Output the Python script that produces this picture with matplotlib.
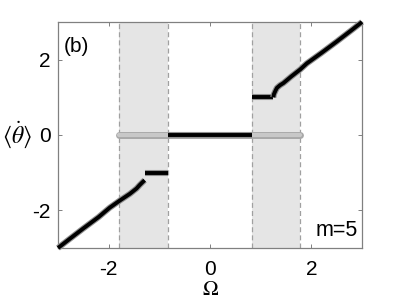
import matplotlib
matplotlib.use('Agg')
import matplotlib.pyplot as plt
import matplotlib.patheffects as pe

plt.rcParams['font.family'] = ['Liberation Sans', 'DejaVu Sans']
plt.rcParams['mathtext.fontset'] = 'stix'
plt.rcParams['axes.unicode_minus'] = False

# shaded bands (Omega ranges)
bands = [(-1.80, -0.83), (0.83, 1.77)]

# gray (unstable) branch at zero
gray_x = [-1.80, 1.77]
gray_y = [0.0, 0.0]

# black (stable) branches
mid_x = [-0.83, 0.83]
mid_y = [0.0, 0.0]

right_flat_x = [0.83, 1.25]
right_flat_y = [1.0, 1.0]
right_x = [1.25, 1.26, 1.29, 1.32, 1.38, 1.45, 1.60, 1.78, 1.91, 2.2, 2.5, 2.8, 3.0]
right_y = [1.00, 1.08, 1.17, 1.25, 1.32, 1.38, 1.55, 1.74, 1.90, 2.18, 2.48, 2.79, 3.0]

left_flat_x = [-1.29, -0.83]
left_flat_y = [-1.0, -1.0]
left_x = [-3.0, -2.8, -2.5, -2.2, -1.98, -1.78, -1.58, -1.45, -1.39, -1.33, -1.29]
left_y = [-3.0, -2.79, -2.48, -2.18, -1.93, -1.74, -1.56, -1.42, -1.33, -1.25, -1.20]

fig = plt.figure(figsize=(3.99, 2.99), dpi=100)
ax = fig.add_axes([0.1454, 0.1706, 0.7619, 0.7558])

for a, b in bands:
    ax.axvspan(a, b, color='#e5e5e5', zorder=0, lw=0)
    ax.axvline(a, color='#a0a0a0', ls='--', lw=0.9, dashes=(4, 2.5), zorder=1)
    ax.axvline(b, color='#a0a0a0', ls='--', lw=0.9, dashes=(4, 2.5), zorder=1)

ax.plot(gray_x, gray_y, color='#c8c8c8', lw=3, solid_capstyle='round', zorder=2,
        path_effects=[pe.Stroke(linewidth=5, foreground='#a8a8a8'), pe.Normal()])

black_fx = [pe.Stroke(linewidth=4.4, foreground='#909090'), pe.Normal()]
for xs, ys in [(mid_x, mid_y), (right_flat_x, right_flat_y), (right_x, right_y),
               (left_flat_x, left_flat_y), (left_x, left_y)]:
    ax.plot(xs, ys, color='black', lw=2.8, solid_capstyle='butt', zorder=3,
            path_effects=black_fx, clip_on=False)

ax.set_xlim(-3, 3)
ax.set_ylim(-3, 3)
ax.set_xticks([-2, 0, 2])
ax.set_yticks([-2, 0, 2])
ax.tick_params(direction='in', length=3, width=0.7, color='#808080',
               top=True, right=True, labelsize=15)
ax.tick_params(axis='x', pad=9)
ax.tick_params(axis='y', pad=5.5)
for s in ax.spines.values():
    s.set_color('#808080')
    s.set_linewidth(0.9)

ax.text(0.02, 0.935, '(b)', transform=ax.transAxes, fontsize=15, va='top', ha='left')
ax.text(0.985, 0.03, 'm=5', transform=ax.transAxes, fontsize=15.5, va='bottom', ha='right')

ax.set_ylabel(r'$\langle\dot{\theta}\rangle$', fontsize=17, rotation=0, va='center', ha='center')
ax.yaxis.set_label_coords(-0.135, 0.5)
ax.set_xlabel(r'$\Omega$', fontsize=15, va='center')
ax.xaxis.set_label_coords(0.5, -0.183)

fig.savefig('out.png', dpi=100)
